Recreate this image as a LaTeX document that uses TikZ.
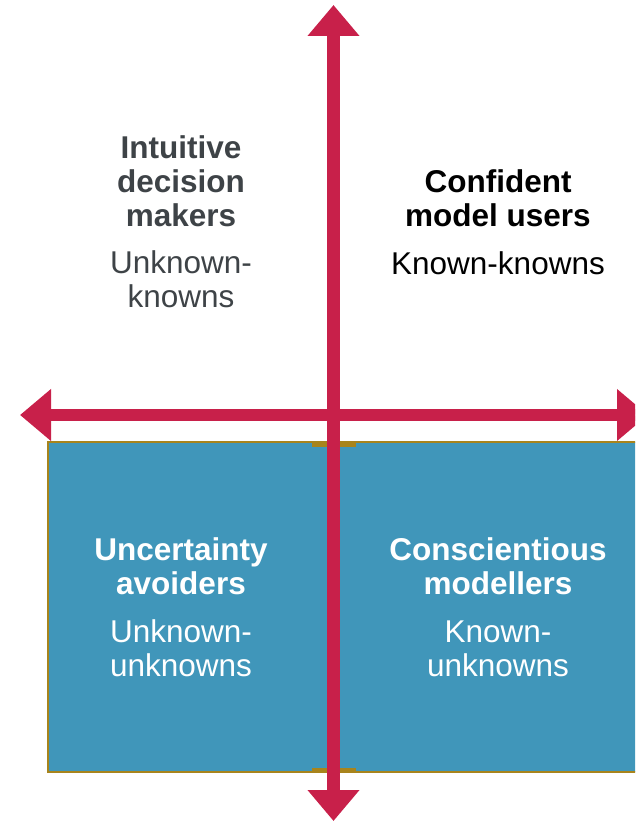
\documentclass[tikz,border=0pt]{standalone}
\usepackage{fontspec}
\setmainfont{Liberation Sans}
\usetikzlibrary{arrows.meta}
\definecolor{axisred}{HTML}{C8204A}
\definecolor{quadblue}{HTML}{4096BA}
\definecolor{quadgold}{HTML}{A8841C}
\definecolor{inkgray}{HTML}{3E4347}
\tikzset{
  quadbox/.style={fill=quadblue, draw=quadgold, line width=2.5pt},
  goldbar/.style={fill=quadgold, draw=none},
  axisline/.style={draw=axisred, line width=12.5pt,
    {Triangle[width=50pt,length=31pt]}-{Triangle[width=50pt,length=31pt]}},
  quadtitle/.style={font=\bfseries\fontsize{31.5}{34}\selectfont, align=center, inner sep=0pt},
  quadsub/.style={font=\fontsize{31.5}{34}\selectfont, align=center, inner sep=0pt}
}
\begin{document}
\begin{tikzpicture}[x=1pt,y=-1pt]
\useasboundingbox (0,0) rectangle (635,821);
\clip (0,0) rectangle (635,821);

% lower quadrants
\draw[quadbox] (48,442) rectangle (330,772);
\draw[quadbox] (337,442) rectangle (641,772);
\fill[goldbar] (312,441) rectangle (356,447);
\fill[goldbar] (312,768) rectangle (356,773);

% axes
\coordinate (top) at (333.5,5);
\coordinate (bottom) at (333.5,821);
\coordinate (left) at (20,415);
\coordinate (right) at (648,415);
\draw[axisline] (left) -- (right);
\draw[axisline] (top) -- (bottom);

% upper left
\node[quadtitle, text=inkgray] (tlt) at (181,181) {Intuitive\\decision\\makers};
\node[quadsub, text=inkgray] (tls) at (181,279.5) {Unknown-\\knowns};
% upper right
\node[quadtitle, text=black] (trt) at (498,198) {Confident\\model users};
\node[quadsub, text=black] (trs) at (498,263) {Known-knowns};
% lower left
\node[quadtitle, text=white] (blt) at (181,566) {Uncertainty\\avoiders};
\node[quadsub, text=white] (bls) at (181,648.5) {Unknown-\\unknowns};
% lower right
\node[quadtitle, text=white] (brt) at (498,566) {Conscientious\\modellers};
\node[quadsub, text=white] (brs) at (498,648.5) {Known-\\unknowns};
\end{tikzpicture}
\end{document}
